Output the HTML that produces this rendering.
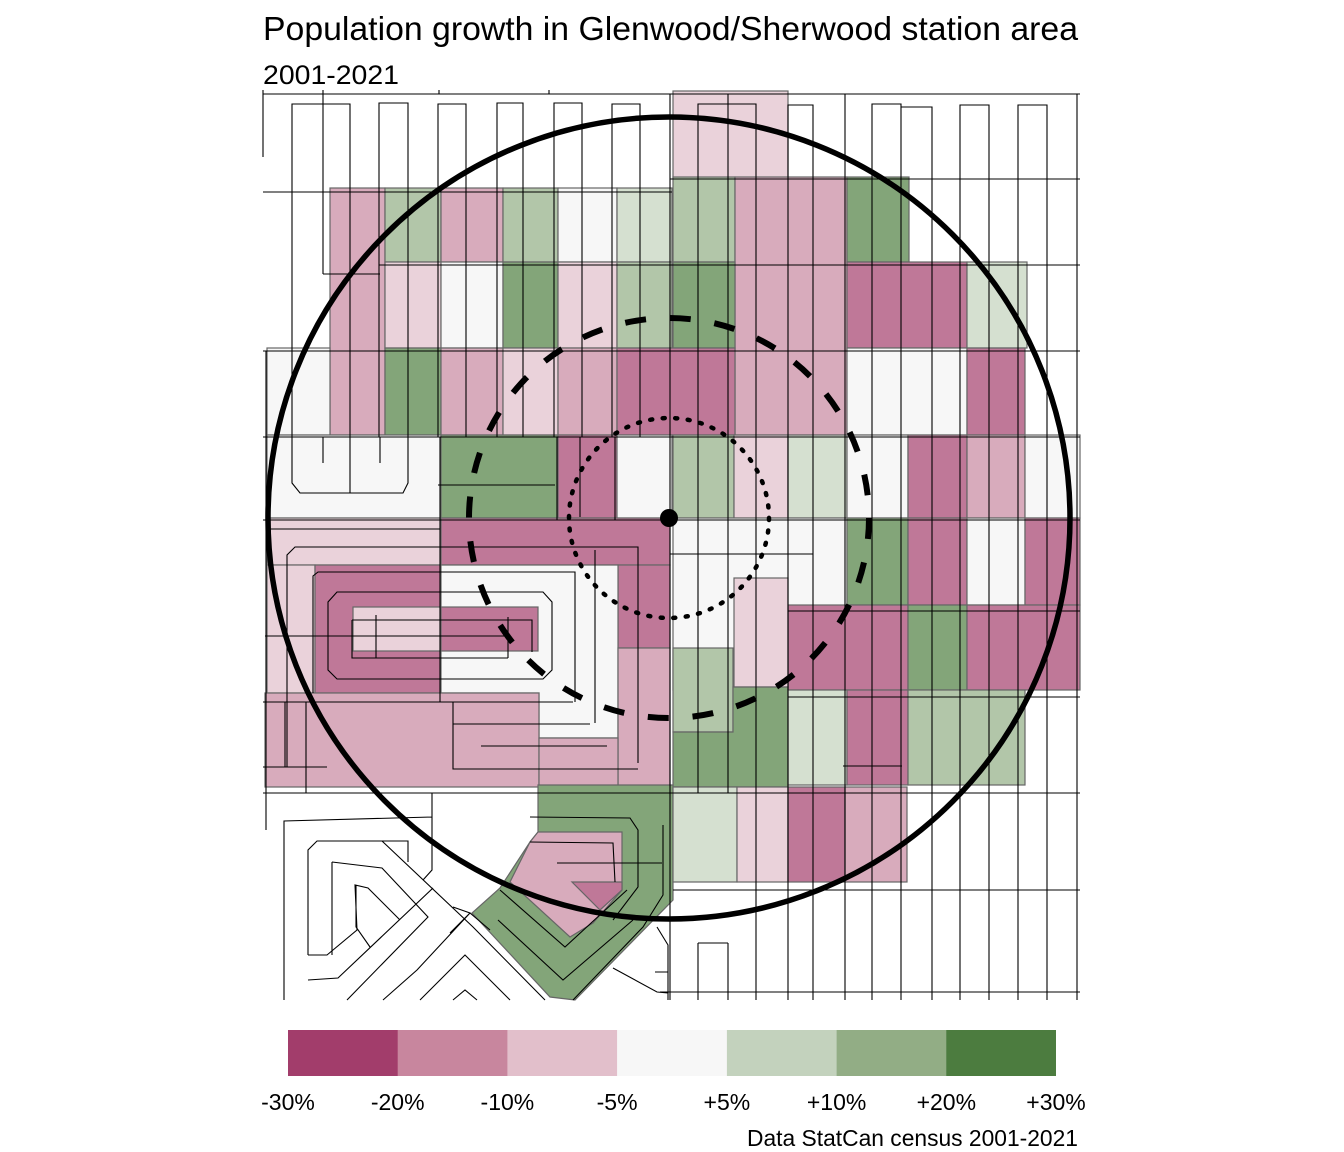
<!DOCTYPE html>
<html><head><meta charset="utf-8"><style>html,body{margin:0;padding:0;background:#fff}svg{display:block}</style></head>
<body>
<svg width="1344" height="1152" viewBox="0 0 1344 1152" xmlns="http://www.w3.org/2000/svg" font-family="Liberation Sans, Arial, sans-serif">
<rect width="1344" height="1152" fill="#fff"/>
<text x="263" y="40" font-size="33" textLength="815" lengthAdjust="spacingAndGlyphs">Population growth in Glenwood/Sherwood station area</text>
<text x="263" y="84" font-size="27" textLength="136" lengthAdjust="spacingAndGlyphs">2001-2021</text>

<g stroke="#666" stroke-width="1.2">
<!-- top -->
<rect x="673" y="91" width="115" height="87" fill="#EAD2DA"/>
<!-- row 188-262 -->
<rect x="330" y="188" width="55" height="247" fill="#D8ABBC"/>
<rect x="385" y="188" width="56" height="74" fill="#B2C6A9"/>
<rect x="441" y="188" width="62" height="74" fill="#D8ABBC"/>
<rect x="503" y="188" width="55" height="74" fill="#B2C6A9"/>
<rect x="558" y="188" width="59" height="74" fill="#F7F7F7"/>
<rect x="617" y="188" width="55" height="74" fill="#D5E0D0"/>
<rect x="673" y="177" width="62" height="85" fill="#B2C6A9"/>
<rect x="735" y="177" width="112" height="258" fill="#D8ABBC"/>
<rect x="847" y="177" width="62" height="85" fill="#83A579"/>
<!-- row 262-348 -->
<rect x="385" y="262" width="56" height="86" fill="#EAD2DA"/>
<rect x="441" y="262" width="62" height="86" fill="#F7F7F7"/>
<rect x="503" y="262" width="55" height="86" fill="#83A579"/>
<rect x="558" y="262" width="59" height="86" fill="#EAD2DA"/>
<rect x="617" y="262" width="55" height="86" fill="#B2C6A9"/>
<rect x="673" y="262" width="62" height="86" fill="#83A579"/>
<rect x="847" y="262" width="120" height="86" fill="#BF7898"/>
<rect x="967" y="262" width="60" height="86" fill="#D5E0D0"/>
<!-- row 348-435 -->
<rect x="267" y="348" width="63" height="87" fill="#F7F7F7"/>
<rect x="385" y="348" width="56" height="87" fill="#83A579"/>
<rect x="441" y="348" width="62" height="87" fill="#D8ABBC"/>
<rect x="503" y="348" width="55" height="87" fill="#EAD2DA"/>
<rect x="558" y="348" width="59" height="87" fill="#D8ABBC"/>
<rect x="617" y="348" width="118" height="87" fill="#BF7898"/>
<rect x="847" y="348" width="120" height="87" fill="#F7F7F7"/>
<rect x="967" y="348" width="58" height="87" fill="#BF7898"/>
<!-- row 435-518 -->
<rect x="267" y="435" width="174" height="83" fill="#F7F7F7"/>
<rect x="441" y="435" width="117" height="83" fill="#83A579"/>
<rect x="558" y="435" width="59" height="83" fill="#BF7898"/>
<rect x="617" y="435" width="55" height="83" fill="#F7F7F7"/>
<rect x="673" y="435" width="61" height="83" fill="#B2C6A9"/>
<rect x="734" y="435" width="54" height="83" fill="#EAD2DA"/>
<rect x="788" y="435" width="59" height="83" fill="#D5E0D0"/>
<rect x="847" y="435" width="61" height="83" fill="#F7F7F7"/>
<rect x="908" y="435" width="59" height="83" fill="#BF7898"/>
<rect x="967" y="435" width="58" height="83" fill="#D8ABBC"/>
<rect x="1025" y="435" width="55" height="83" fill="#F7F7F7"/>
<!-- row 518+ -->
<rect x="267" y="518" width="174" height="47" fill="#EAD2DA"/>
<rect x="267" y="565" width="48" height="128" fill="#EAD2DA"/>
<rect x="441" y="518" width="229" height="47" fill="#BF7898"/>
<rect x="618" y="565" width="52" height="83" fill="#BF7898"/>
<rect x="673" y="518" width="174" height="172" fill="#F7F7F7"/>
<rect x="847" y="518" width="61" height="87" fill="#83A579"/>
<rect x="908" y="518" width="59" height="87" fill="#BF7898"/>
<rect x="967" y="518" width="58" height="87" fill="#F7F7F7"/>
<rect x="1025" y="518" width="55" height="87" fill="#BF7898"/>
<rect x="788" y="605" width="120" height="85" fill="#BF7898"/>
<rect x="908" y="605" width="59" height="85" fill="#83A579"/>
<rect x="967" y="605" width="113" height="85" fill="#BF7898"/>
<rect x="734" y="578" width="54" height="109" fill="#EAD2DA"/>
<rect x="673" y="648" width="60" height="84" fill="#B2C6A9"/>
<path d="M673 732H733V687H788V787H673Z" fill="#83A579"/>
<rect x="788" y="690" width="59" height="95" fill="#D5E0D0"/>
<rect x="847" y="690" width="61" height="95" fill="#BF7898"/>
<rect x="908" y="690" width="117" height="95" fill="#B2C6A9"/>
<!-- left loops -->
<rect x="315" y="565" width="126" height="128" fill="#BF7898"/>
<rect x="353" y="607" width="88" height="44" fill="#EAD2DA"/>
<path d="M441 565H618V738H539V693H441Z" fill="#F7F7F7"/>
<rect x="441" y="607" width="97" height="44" fill="#BF7898"/>
<rect x="618" y="648" width="52" height="139" fill="#D8ABBC"/>
<rect x="265" y="693" width="274" height="94" fill="#D8ABBC"/>
<rect x="539" y="738" width="79" height="49" fill="#D8ABBC"/>
<!-- bottom -->
<path d="M538 785H673V900L575 1000L550 997L472 913L500 888L530 842L538 832Z" fill="#83A579"/>
<path d="M538 832H622V890L593 923L570 937L510 882L530 842Z" fill="#D8ABBC"/>
<path d="M572 882H622V890L600 910Z" fill="#BF7898"/>
<rect x="673" y="787" width="64" height="95" fill="#D5E0D0"/>
<rect x="737" y="787" width="51" height="95" fill="#EAD2DA"/>
<rect x="788" y="787" width="57" height="95" fill="#BF7898"/>
<rect x="845" y="787" width="62" height="95" fill="#D8ABBC"/>
</g>

<g stroke="#000" stroke-width="1.1" fill="none">
<!-- horizontals -->
<path d="M263 94H1080M263 192H672M670 179H1080M379 265H1080M323 274H380M263 351H1080M263 437H1080M263 520H1080M670 554H813M788 611H1080M263 702H573M788 697H1080M263 767H327M843 766H902M263 793H1080M673 890H1080M660 992H1080"/>
<!-- ticks top -->
<path d="M263 90V94M323 90V94M439 90V94M549 90V94"/>
<!-- left upper verticals -->
<path d="M263 94V157M292 437V104H350V437M323 94V274M379 437V103H408V437M438 437V104H466V437M497 437V103H523V437M554 437V103H582V437M612 437V104H640V437"/>
<path d="M266 351V830"/>
<!-- right verticals -->
<path d="M670 94V1000M698 793V104H756V1000M728 94V793M788 1000V105H813V1000M845 94V1000M872 1000V104H901V1000M901 107H932V1000M960 1000V105H989V1000M1018 1000V105H1047V1000M1077 94V1000M698 943V1000M728 943V1000M698 943H728"/>
<!-- lower-left loops -->
<path d="M292 437V483L300 493H403L408 483V437M323 437V463M350 437V493M380 437V463M440 437V702M557 437V520M580 437V517M615 437V520M438 485H555"/>
<path d="M270 529H440M287 767V555L295 547H638V763M638 769H453V702M313 693V576L318 572H575V702M337 592H543L552 602V670L543 679H337L328 670V602Z"/>
<path d="M352 620H532V652M352 620V658H508M265 636H508M508 617V658M376 615V658M595 550V723M453 724H590M481 746H607M306 702V793M285 702V767"/>
<!-- bottom-left diagonals -->
<path d="M432 793V870L423 880M284 1000V821L432 817M308 955V850L317 841H408V862M308 955H327L357 930L355 885L368 888L400 920M308 980L338 978L433 888M332 862V955M332 862L382 868L428 917L347 1000M382 841L473 927L545 1000M356 885V927L370 947M453 907L470 913L417 970L383 1000M420 1000L465 955L510 1000M453 1000L465 990L477 1000M450 933L470 913L490 930"/>
<path d="M530 817L630 818L638 830V887L613 920M530 842L613 843L615 882M557 863H662M498 920L563 980L633 920M500 890L565 947L627 890M663 825V895L643 927L573 1000M657 927L668 945V1000M613 968L657 992L668 993M655 972H668"/>
</g>

<!-- circles -->
<circle cx="669" cy="518" r="401" fill="none" stroke="#000" stroke-width="5.5"/>
<circle cx="669" cy="518" r="200" fill="none" stroke="#000" stroke-width="6" stroke-dasharray="21 23.9"/>
<circle cx="669" cy="518" r="100" fill="none" stroke="#000" stroke-width="4.5" stroke-linecap="round" stroke-dasharray="2 10.56"/>
<circle cx="669" cy="518" r="9" fill="#000"/>

<!-- legend -->
<rect x="288" y="1030" width="110" height="46" fill="#A23D6B"/>
<rect x="397.7" y="1030" width="110" height="46" fill="#C8869E"/>
<rect x="507.4" y="1030" width="110" height="46" fill="#E2BFCB"/>
<rect x="617.1" y="1030" width="110" height="46" fill="#F7F7F7"/>
<rect x="726.9" y="1030" width="110" height="46" fill="#C3D2BD"/>
<rect x="836.6" y="1030" width="110" height="46" fill="#92AD85"/>
<rect x="946.3" y="1030" width="109.7" height="46" fill="#4C7C3F"/>
<g font-size="23" text-anchor="middle" fill="#000">
<text x="288" y="1110">-30%</text>
<text x="397.7" y="1110">-20%</text>
<text x="507.4" y="1110">-10%</text>
<text x="617.1" y="1110">-5%</text>
<text x="726.9" y="1110">+5%</text>
<text x="836.6" y="1110">+10%</text>
<text x="946.3" y="1110">+20%</text>
<text x="1056" y="1110">+30%</text>
</g>
<text x="1078" y="1146" font-size="23" text-anchor="end" textLength="331" lengthAdjust="spacingAndGlyphs">Data StatCan census 2001-2021</text>
</svg>
</body></html>
